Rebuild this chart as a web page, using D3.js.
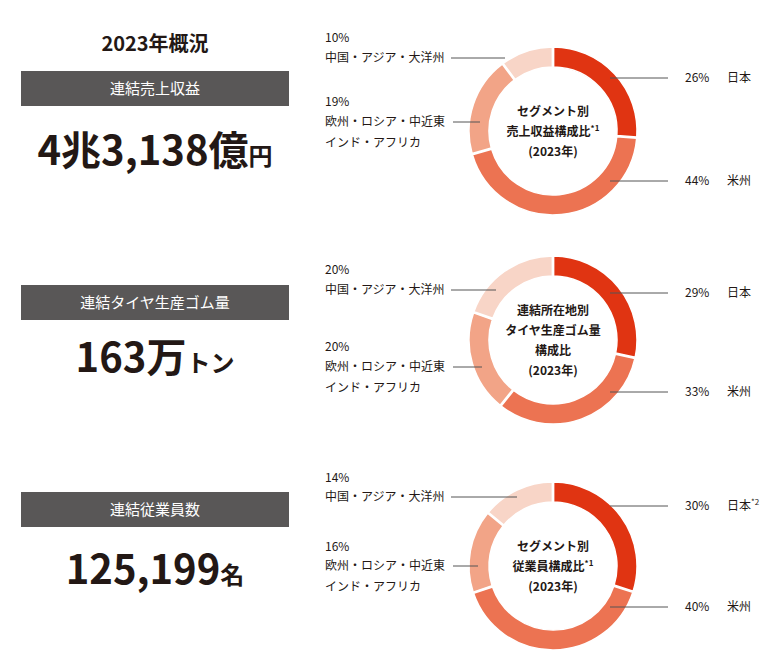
<!DOCTYPE html>
<html>
<head>
<meta charset="utf-8">
<script src="https://cdn.jsdelivr.net/npm/d3@7"></script>
<style>
  body { margin: 0; background: #fff; }
  text { font-family: "Noto Sans CJK JP", "Noto Sans", sans-serif; fill: #231815; }
</style>
</head>
<body>
<svg id="chart" width="774" height="661"></svg>
<script>
// data
var regions = ["日本", "米州", "欧州・ロシア・中近東インド・アフリカ", "中国・アジア・大洋州"];
var colors = ["#e03412", "#ec7352", "#f2a487", "#f8d5c7"];
var revenueShare = [26, 44, 19, 10];
var rubberShare = [29, 33, 20, 20];
var employeeShare = [30, 40, 16, 14];
var headers = ["連結売上収益", "連結タイヤ生産ゴム量", "連結従業員数"];
var bigNumbers = [["4兆3,138億", "円"], ["163万", "トン"], ["125,199", "名"]];

var svg = d3.select("#chart");

svg.append("text").attr("x", 155).attr("y", 51).attr("text-anchor", "middle")
  .attr("font-size", 20).attr("font-weight", 700).text("2023年概況");

var rows = [
  {cy: 131, box: 71, num: 165, data: revenueShare, center: ["セグメント別", "売上収益構成比*1", "(2023年)"],
   right: [78, 181], left: [{y: 38, line: 58, x2: 505}, {y: 102, line: 122, x2: 480}], note: ""},
  {cy: 340, box: 285, num: 372, data: rubberShare, center: ["連結所在地別", "タイヤ生産ゴム量", "構成比", "(2023年)"],
   right: [293, 392], left: [{y: 270, line: 290, x2: 496}, {y: 347, line: 367, x2: 482}], note: ""},
  {cy: 566, box: 492, num: 584, data: employeeShare, center: ["セグメント別", "従業員構成比*1", "(2023年)"],
   right: [506, 607], left: [{y: 478, line: 497, x2: 517}, {y: 547, line: 566, x2: 478}], note: "*2"}
];

var cx = 553;
var arc = d3.arc().innerRadius(64).outerRadius(84);
var pie = d3.pie().sort(null).padAngle(0.012);

rows.forEach(function(r, i) {
  svg.append("rect").attr("x", 21).attr("y", r.box).attr("width", 268).attr("height", 35).attr("fill", "#595757");
  svg.append("text").attr("x", 155).attr("y", r.box + 23).attr("text-anchor", "middle")
    .attr("font-size", 15).style("fill", "#fff").text(headers[i]);
  var t = svg.append("text").attr("x", 155).attr("y", r.num).attr("text-anchor", "middle").attr("font-weight", 700);
  t.append("tspan").attr("font-size", 40).text(bigNumbers[i][0]);
  t.append("tspan").attr("font-size", 24).text(bigNumbers[i][1]);

  var g = svg.append("g").attr("transform", "translate(" + cx + "," + r.cy + ")");
  g.selectAll("path").data(pie(r.data)).enter().append("path")
    .attr("d", arc).attr("fill", function(d, j) { return colors[j]; })
    .attr("stroke", "#fff").attr("stroke-width", 1.5);

  var n = r.center.length;
  r.center.forEach(function(s, k) {
    var tt = g.append("text").attr("text-anchor", "middle").attr("y", (k - (n - 1) / 2) * 20 + 5)
      .attr("font-size", 12).attr("font-weight", 700);
    var m = s.match(/^(.*?)(\*\d)?$/);
    tt.append("tspan").text(m[1]);
    if (m[2]) tt.append("tspan").attr("font-size", 8).attr("dy", -5).text(m[2]);
  });

  // right labels (Japan, Americas)
  [0, 1].forEach(function(j) {
    var y = r.right[j];
    svg.append("line").attr("x1", 610).attr("x2", 668).attr("y1", y).attr("y2", y).attr("stroke", "#555").attr("stroke-width", 1);
    svg.append("text").attr("x", 685).attr("y", y + 4).attr("font-size", 12).text(r.data[j] + "%");
    var lt = svg.append("text").attr("x", 727).attr("y", y + 4).attr("font-size", 12).text(regions[j]);
    if (j === 0 && r.note) lt.append("tspan").attr("font-size", 8).attr("dy", -5).text(r.note);
  });

  // left labels (China/Asia, Europe)
  var L = r.left;
  svg.append("text").attr("x", 325).attr("y", L[0].y + 4).attr("font-size", 12).text(r.data[3] + "%");
  svg.append("text").attr("x", 325).attr("y", L[0].line + 4).attr("font-size", 12).text(regions[3]);
  svg.append("line").attr("x1", 451).attr("x2", L[0].x2).attr("y1", L[0].line).attr("y2", L[0].line).attr("stroke", "#555");
  svg.append("text").attr("x", 325).attr("y", L[1].y + 4).attr("font-size", 12).text(r.data[2] + "%");
  svg.append("text").attr("x", 325).attr("y", L[1].line + 4).attr("font-size", 12).text("欧州・ロシア・中近東");
  svg.append("text").attr("x", 325).attr("y", L[1].line + 25).attr("font-size", 12).text("インド・アフリカ");
  svg.append("line").attr("x1", 453).attr("x2", L[1].x2).attr("y1", L[1].line).attr("y2", L[1].line).attr("stroke", "#555");
});
</script>
</body>
</html>
